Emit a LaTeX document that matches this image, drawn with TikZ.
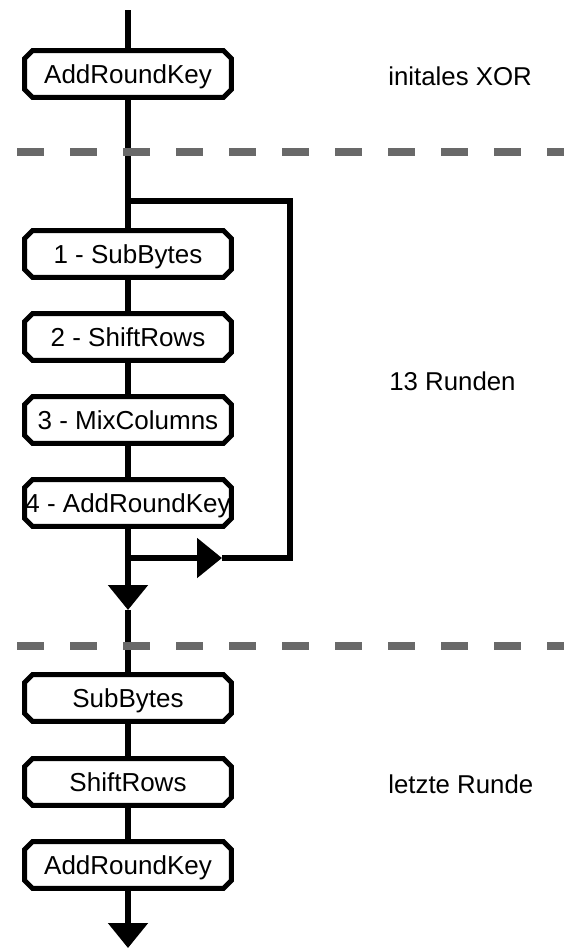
\documentclass[tikz,border=0pt]{standalone}
\usepackage{fontspec}
\setmainfont{Liberation Sans}
\usetikzlibrary{calc,arrows.meta}
\definecolor{sepgray}{RGB}{105,105,105}
\begin{document}
\begin{tikzpicture}[x=0.5pt,y=-0.5pt]
 \tikzset{stage/.style={rectangle,minimum width=103pt,minimum height=23pt,inner sep=0pt,text height=9.24pt,text depth=0pt,font=\fontsize{13}{15}\selectfont,
   append after command={\pgfextra{\draw[line width=2.5pt] ($(\tikzlastnode.north west)+(4pt,0pt)$) -- ($(\tikzlastnode.north east)+(-4pt,0pt)$) -- ($(\tikzlastnode.north east)+(0pt,-4pt)$) -- ($(\tikzlastnode.south east)+(0pt,4pt)$) -- ($(\tikzlastnode.south east)+(-4pt,0pt)$) -- ($(\tikzlastnode.south west)+(4pt,0pt)$) -- ($(\tikzlastnode.south west)+(0pt,4pt)$) -- ($(\tikzlastnode.north west)+(0pt,-4pt)$) -- cycle;}}},
  flow/.style={line width=2.7pt},
  tip/.style={-{Triangle[length=12.5pt,width=19.5pt]}},
  separator/.style={sepgray,line width=4pt,dash pattern=on 13.35pt off 13.15pt},
  note/.style={anchor=base west,inner sep=0pt,font=\fontsize{12.9}{15}\selectfont}}
 \useasboundingbox (0,0) rectangle (564,949);
  % initial round
  \coordinate (start) at (128,10);
  \node[stage] (ark0) at (128,74) {AddRoundKey};
  \node[note] (lbl0) at (388,85) {initales XOR};
  % main rounds
  \coordinate (split) at (128,201);
  \node[stage] (r1) at (128,254) {1 - SubBytes};
  \node[stage] (r2) at (128,337) {2 - ShiftRows};
  \node[stage] (r3) at (128,420) {3 - MixColumns};
  \node[stage] (r4) at (128,503) {4 - AddRoundKey};
  \node[note] (lbl1) at (389,390.5) {13 Runden};
  \coordinate (join) at (128,558);
  \coordinate (tipright) at (222,558);
  \coordinate (lpbr) at (290,558);
  \coordinate (lptr) at (290,201);
  \coordinate (tipdown) at (128,610);
  % last round
  \node[stage] (s1) at (128,698) {SubBytes};
  \node[stage] (s2) at (128,782) {ShiftRows};
  \node[stage] (s3) at (128,865) {AddRoundKey};
  \node[note] (lbl2) at (388,793) {letzte Runde};
  \coordinate (finish) at (128,948);
  \draw[flow] (start) -- (ark0);
  \draw[flow] (ark0) -- (r1);
  \draw[flow] (r1) -- (r2);
  \draw[flow] (r2) -- (r3);
  \draw[flow] (r3) -- (r4);
  \draw[flow, tip] (r4) -- (tipdown);
  \draw[flow, tip] (join) -- (tipright);
  \draw[flow] (tipright) -- (lpbr) -- (lptr) -- (split);
  \draw[flow] (tipdown) -- (s1);
  \draw[flow] (s1) -- (s2);
  \draw[flow] (s2) -- (s3);
  \draw[flow, tip] (s3) -- (finish);
  % separators
  \coordinate (sepA1) at (17,152);
  \coordinate (sepA2) at (564,152);
  \coordinate (sepB1) at (17,646);
  \coordinate (sepB2) at (564,646);
  \draw[separator] (sepA1) -- (sepA2);
  \draw[separator] (sepB1) -- (sepB2);
\end{tikzpicture}
\end{document}
